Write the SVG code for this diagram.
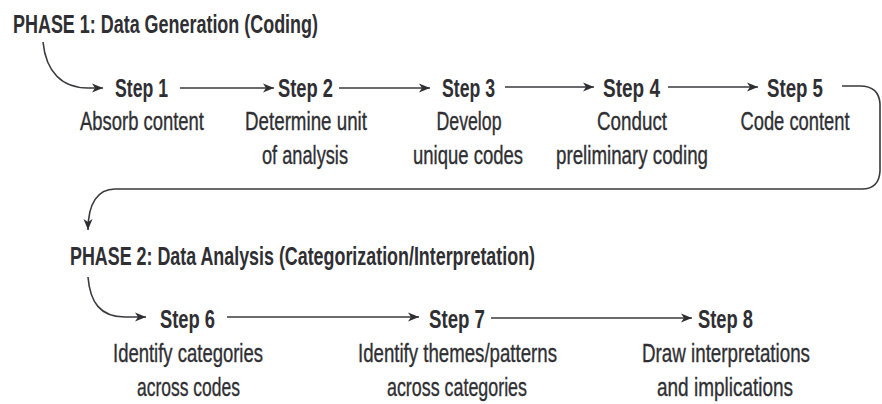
<svg xmlns="http://www.w3.org/2000/svg" width="882" height="404" viewBox="0 0 882 404">
<defs>
<style>
text{font-family:"Liberation Sans",Arial,sans-serif;fill:#2f2f33;text-anchor:middle}
.ph{font-size:25px;font-weight:bold;text-anchor:start}
.st{font-size:25px;font-weight:bold}
.ds{font-size:25px;stroke:#2f2f33;stroke-width:0.35}
.ln{fill:none;stroke:#3a3a3e;stroke-width:1.6;marker-end:url(#ah)}
</style>
<marker id="ah" markerUnits="userSpaceOnUse" markerWidth="12" markerHeight="10" viewBox="0 0 12 10" refX="11" refY="5" orient="auto">
<path d="M0,0.5 L11,5 L0,9.5 L3,5 z" fill="#2f2f33"/>
</marker>
</defs>
<rect width="882" height="404" fill="#ffffff"/>
<g id="phase1"><text class="ph" x="13" y="33" textLength="305" lengthAdjust="spacingAndGlyphs">PHASE 1: Data Generation (Coding)</text></g>
<g id="phase2"><text class="ph" x="70" y="265" textLength="465" lengthAdjust="spacingAndGlyphs">PHASE 2: Data Analysis (Categorization/Interpretation)</text></g>
<g id="step1"><text class="st" x="141.5" y="97" textLength="53" lengthAdjust="spacingAndGlyphs">Step 1</text><text class="ds" x="142" y="130" textLength="124" lengthAdjust="spacingAndGlyphs">Absorb content</text></g>
<g id="step2"><text class="st" x="305.5" y="97" textLength="55" lengthAdjust="spacingAndGlyphs">Step 2</text><text class="ds" x="306" y="130" textLength="122" lengthAdjust="spacingAndGlyphs">Determine unit</text><text class="ds" x="305" y="164" textLength="86" lengthAdjust="spacingAndGlyphs">of analysis</text></g>
<g id="step3"><text class="st" x="468.5" y="97" textLength="53" lengthAdjust="spacingAndGlyphs">Step 3</text><text class="ds" x="469" y="130" textLength="65" lengthAdjust="spacingAndGlyphs">Develop</text><text class="ds" x="468" y="164" textLength="110" lengthAdjust="spacingAndGlyphs">unique codes</text></g>
<g id="step4"><text class="st" x="631.5" y="97" textLength="57" lengthAdjust="spacingAndGlyphs">Step 4</text><text class="ds" x="632" y="130" textLength="70" lengthAdjust="spacingAndGlyphs">Conduct</text><text class="ds" x="632" y="164" textLength="152" lengthAdjust="spacingAndGlyphs">preliminary coding</text></g>
<g id="step5"><text class="st" x="795" y="97" textLength="56" lengthAdjust="spacingAndGlyphs">Step 5</text><text class="ds" x="795" y="130" textLength="109" lengthAdjust="spacingAndGlyphs">Code content</text></g>
<g id="step6"><text class="st" x="187.5" y="328" textLength="55" lengthAdjust="spacingAndGlyphs">Step 6</text><text class="ds" x="188" y="362" textLength="150" lengthAdjust="spacingAndGlyphs">Identify categories</text><text class="ds" x="188.5" y="396" textLength="103" lengthAdjust="spacingAndGlyphs">across codes</text></g>
<g id="step7"><text class="st" x="457" y="328" textLength="56" lengthAdjust="spacingAndGlyphs">Step 7</text><text class="ds" x="457.5" y="362" textLength="199" lengthAdjust="spacingAndGlyphs">Identify themes/patterns</text><text class="ds" x="457" y="396" textLength="140" lengthAdjust="spacingAndGlyphs">across categories</text></g>
<g id="step8"><text class="st" x="725.5" y="328" textLength="55" lengthAdjust="spacingAndGlyphs">Step 8</text><text class="ds" x="726" y="362" textLength="168" lengthAdjust="spacingAndGlyphs">Draw interpretations</text><text class="ds" x="725" y="396" textLength="136" lengthAdjust="spacingAndGlyphs">and implications</text></g>
<g id="connectors">
<path class="ln" d="M43,42 C46,72 62,88 88,88 L103,88"/>
<path class="ln" d="M180,88 L274,88"/>
<path class="ln" d="M339,88 L430,88"/>
<path class="ln" d="M505,87 L594,87"/>
<path class="ln" d="M668,87 L758,87"/>
<path class="ln" d="M842,86 L860,86 Q879,86 880,104 L880,171 Q879,189 862,189 L115,189 C98,189 88,203 88,230"/>
<path class="ln" d="M88,277 C90,302 100,317 125,317 L146,317"/>
<path class="ln" d="M227,317 L419,317"/>
<path class="ln" d="M491,318 L692,318"/>
</g>
</svg>
